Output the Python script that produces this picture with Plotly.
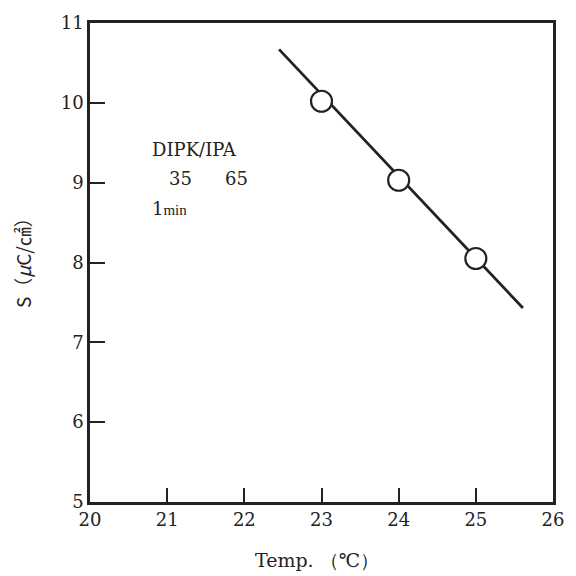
import plotly.graph_objects as go

# data
temps = [23, 24, 25]
s_values = [10.02, 9.03, 8.05]
fit_x = [22.45, 25.61]
fit_y = [10.67, 7.43]
x_ticks = [20, 21, 22, 23, 24, 25, 26]
y_ticks = [5, 6, 7, 8, 9, 10, 11]

serif = "DejaVu Serif, Liberation Serif, serif"
ink = "#222"

W, H = 576, 576
l, r, t, b = 90, 12, 22, 74
pw, ph = W - l - r, H - t - b


def px_x(x):
    return (x - l) / pw


def px_y(y):
    return (H - b - y) / ph


fig = go.Figure()
fig.add_trace(go.Scatter(x=fit_x, y=fit_y, mode="lines",
                         line=dict(color=ink, width=2.8), showlegend=False))
fig.add_trace(go.Scatter(x=temps, y=s_values, mode="markers",
                         marker=dict(symbol="circle", size=21, color="white",
                                     line=dict(color=ink, width=2.2)),
                         showlegend=False))

axis_common = dict(ticks="inside", tickwidth=2, tickcolor=ink, showline=True,
                   linewidth=2.5, linecolor=ink, mirror=True, showgrid=False,
                   zeroline=False, tickfont=dict(family=serif, size=18, color=ink))

fig.update_layout(
    width=W, height=H,
    margin=dict(l=l, r=r, t=t, b=b),
    plot_bgcolor="white", paper_bgcolor="white",
    font=dict(family=serif, size=18, color=ink),
    xaxis=dict(range=[20, 26], tickvals=x_ticks, ticklen=14, **axis_common),
    yaxis=dict(range=[5, 11], tickvals=y_ticks, ticklen=15, **axis_common),
    annotations=[
        dict(text="Temp. （℃）", x=px_x(322), y=px_y(560), xref="paper", yref="paper",
             showarrow=False, font=dict(family=serif, size=19, color=ink),
             xanchor="center", yanchor="middle"),
        dict(text="DIPK/IPA", x=20.78, y=9.41, xref="x", yref="y", showarrow=False,
             font=dict(family=serif, size=18, color=ink), xanchor="left", yanchor="middle"),
        dict(text="35", x=21.0, y=9.05, xref="x", yref="y", showarrow=False,
             font=dict(family=serif, size=18, color=ink), xanchor="left", yanchor="middle"),
        dict(text="65", x=21.72, y=9.05, xref="x", yref="y", showarrow=False,
             font=dict(family=serif, size=18, color=ink), xanchor="left", yanchor="middle"),
        dict(text="1<span style='font-size:15px;font-family:Liberation Serif'>min</span>",
             x=20.78, y=8.68, xref="x", yref="y",
             showarrow=False, font=dict(family=serif, size=18, color=ink),
             xanchor="left", yanchor="middle"),
        dict(text="S（<i>μ</i>C/㎠）", x=px_x(21), y=px_y(258), xref="paper", yref="paper",
             showarrow=False, textangle=-90,
             font=dict(family="Noto Sans CJK JP, Noto Sans, sans-serif", size=19, color=ink),
             xanchor="center", yanchor="middle"),
    ],
)

fig.write_html("out.html", config={"displayModeBar": False},
               post_script="document.body.style.margin='0';document.body.style.overflow='hidden';")
